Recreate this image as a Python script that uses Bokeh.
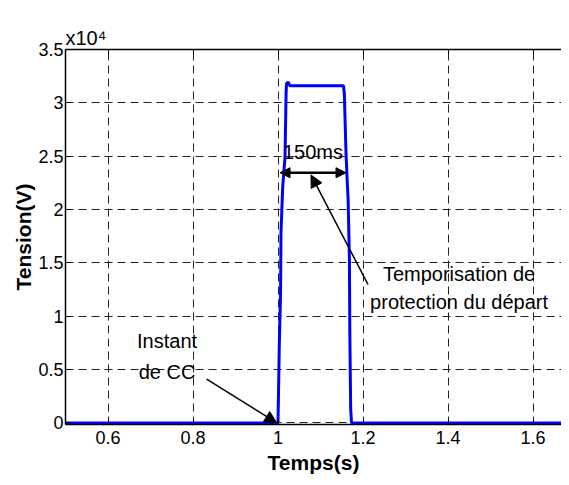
from bokeh.plotting import figure
from bokeh.models import (Range1d, LinearAxis, FixedTicker, Label, Arrow, NormalHead, Title)
from bokeh.embed import file_html
from bokeh.resources import INLINE

# ---- data ----
time_s = [0.5, 1.0, 1.003, 1.006, 1.007, 1.011, 1.014, 1.0165, 1.019, 1.020, 1.024,
          1.028, 1.154, 1.156, 1.160, 1.163, 1.165, 1.168, 1.169, 1.171, 1.173, 1.7]
tension_v = [0, 0, 7200, 12200, 17800, 22100, 23700, 24900, 30900, 31800, 31950,
             31600, 31600, 30900, 25300, 22500, 20900, 15300, 8500, 1300, 0, 0]
x_ticks = [0.6, 0.8, 1.0, 1.2, 1.4, 1.6]
x_tick_labels = ["0.6", "0.8", "1", "1.2", "1.4", "1.6"]
y_ticks = [0, 5000, 10000, 15000, 20000, 25000, 30000, 35000]
y_tick_labels = ["0", "0.5", "1", "1.5", "2", "2.5", "3", "3.5"]
# annotation anchors (data units)
delay_start, delay_end, delay_level = 1.0047, 1.160, 23450
cc_text_x, cc_text_y, cc_text_lines = 0.739, 6600, ["Instant", "de CC"]
cc_arrow = (0.832, 4100, 0.997, 0)
tempo_text_x, tempo_text_y, tempo_text_lines = 1.426, 12970, ["Temporisation de", "protection du départ"]
tempo_arrow = (1.2118, 12970, 1.0776, 23240)

FONT = "Liberation Sans"

p = figure(width=561, height=477, output_backend="svg", toolbar_location=None,
           x_range=Range1d(0.5, 1.667), y_range=Range1d(-150, 35000),
           min_border_left=65, min_border_right=0, min_border_top=49, min_border_bottom=53,
           x_axis_label="Temps(s)", y_axis_label="Tension(V)")
p.outline_line_color = None
p.background_fill_color = "white"
p.border_fill_color = "white"

# grid
for g in (p.xgrid, p.ygrid):
    g.grid_line_color = "#222222"
    g.grid_line_dash = "8 5"
    g.grid_line_width = 1
p.xgrid.ticker = FixedTicker(ticks=x_ticks)
p.ygrid.ticker = FixedTicker(ticks=y_ticks)

# axes
p.xaxis.ticker = FixedTicker(ticks=x_ticks)
p.xaxis.major_label_overrides = {t: l for t, l in zip(x_ticks, x_tick_labels)}
p.yaxis.ticker = FixedTicker(ticks=y_ticks)
p.yaxis.major_label_overrides = {t: l for t, l in zip(y_ticks, y_tick_labels)}
for ax in (p.xaxis[0], p.yaxis[0]):
    ax.axis_line_color = "black"
    ax.axis_line_width = 1.5
    ax.major_tick_in = 5
    ax.major_tick_out = 0
    ax.minor_tick_line_color = None
    ax.major_tick_line_color = "black"
    ax.major_label_text_font = FONT
    ax.major_label_text_font_size = "18px"
    ax.major_label_text_color = "black"
    ax.axis_label_text_font = FONT
    ax.axis_label_text_font_style = "bold"
    ax.axis_label_text_font_size = "21px"
    ax.axis_label_text_color = "black"
p.xaxis.major_label_standoff = 6
p.xaxis.axis_label_standoff = 4
p.yaxis.major_label_standoff = 2
p.yaxis.axis_label_standoff = 0

top = LinearAxis(ticker=FixedTicker(ticks=x_ticks),
                 major_label_overrides={t: "" for t in x_ticks},
                 major_tick_in=5, major_tick_out=0, minor_tick_line_color=None,
                 axis_line_width=1.5, axis_line_color="black")
p.add_layout(top, "above")

# x10^4 multiplier, as a left-aligned title above the frame
p.add_layout(Title(text="x10⁴", align="left", text_font=FONT, text_font_size="20px",
                   text_font_style="normal", text_color="black", standoff=2), "above")

# data line
p.line(time_s, tension_v, line_color="#0000ff", line_width=3)

# 150ms double arrow
p.add_layout(Arrow(x_start=delay_start, y_start=delay_level, x_end=delay_end, y_end=delay_level,
                   line_color="black", line_width=2.5,
                   start=NormalHead(size=10, fill_color="black", line_color="black"),
                   end=NormalHead(size=10, fill_color="black", line_color="black")))
p.add_layout(Label(x=(delay_start + delay_end) / 2, y=delay_level, y_offset=10, text="150ms",
                   text_align="center", text_font=FONT, text_font_size="20px", text_color="black"))

# Temporisation arrow
p.add_layout(Arrow(x_start=tempo_arrow[0], y_start=tempo_arrow[1],
                   x_end=tempo_arrow[2], y_end=tempo_arrow[3],
                   line_color="black", line_width=1.5,
                   end=NormalHead(size=12, fill_color="black", line_color="black")))
for i, line in enumerate(tempo_text_lines):
    p.add_layout(Label(x=tempo_text_x, y=tempo_text_y, y_offset=-28 * i, text=line,
                       text_align="center", text_font=FONT, text_font_size="20px",
                       text_color="black"))

# Instant de CC arrow
p.add_layout(Arrow(x_start=cc_arrow[0], y_start=cc_arrow[1], x_end=cc_arrow[2], y_end=cc_arrow[3],
                   line_color="black", line_width=1.5,
                   end=NormalHead(size=12, fill_color="black", line_color="black")))
for i, line in enumerate(cc_text_lines):
    p.add_layout(Label(x=cc_text_x, y=cc_text_y, y_offset=-31 * i, text=line,
                       text_align="center", text_font=FONT, text_font_size="20px",
                       text_color="black"))

open("out.html", "w").write(file_html(p, INLINE))
